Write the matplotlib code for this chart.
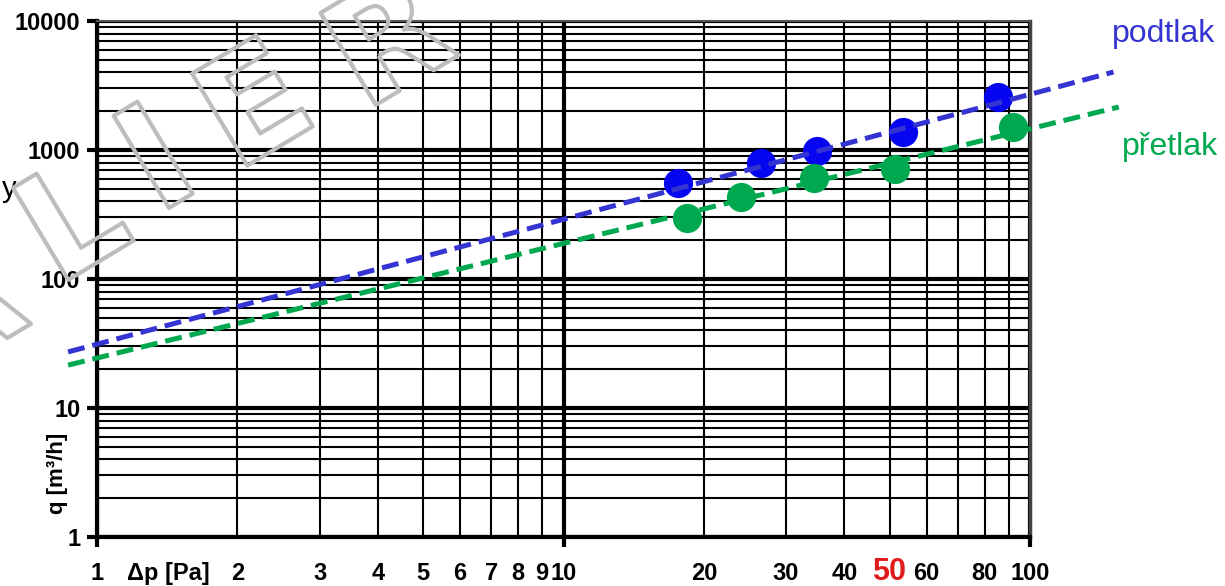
import matplotlib.pyplot as plt
import matplotlib.patheffects as pe

# measured points, dp [Pa] vs q [m3/h]
dp_podtlak = [17.6, 26.5, 34.9, 53.4, 85.4]
q_podtlak = [555, 792, 982, 1380, 2570]
dp_pretlak = [18.4, 24.0, 34.4, 51.3, 91.9]
q_pretlak = [297, 433, 607, 713, 1507]

# fitted power-law lines (end points)
fit_dp_podtlak = [0.867, 151]
fit_q_podtlak = [27.2, 4024]
fit_dp_pretlak = [0.867, 155]
fit_q_pretlak = [21.5, 2154]

x_major = [1, 10, 100]
x_minor = [2, 3, 4, 5, 6, 7, 8, 9, 20, 30, 40, 50, 60, 70, 80, 90]
x_minor_labels = ['2', '3', '4', '5', '6', '7', '8', '9',
                  '20', '30', '40', '50', '60', '', '80', '']
y_major = [1, 10, 100, 1000, 10000]
y_minor = [m * d for d in [1, 10, 100, 1000] for m in range(2, 10)]

BLUE_PT = '#0505f0'
BLUE_LN = '#3434d2'
GREEN = '#00a84f'
W = 1225
H = 586

fig = plt.figure(figsize=(12.25, 5.86), dpi=100)
ax = fig.add_axes([97 / W, 1 - 537 / H, (1030 - 97) / W, (537 - 21) / H])
ax.set_xscale('log')
ax.set_yscale('log')
ax.set_xlim(1, 100)
ax.set_ylim(1, 10000)

lab_font = dict(family='Liberation Sans', weight='bold', size=17)
ax.set_xticks(x_major, labels=['1', '10', '100'], **lab_font)
ax.set_xticks(x_minor, labels=x_minor_labels, minor=True, **lab_font)
ax.set_yticks(y_major, labels=[str(v) for v in y_major], **lab_font)
ax.set_yticks(y_minor, labels=[], minor=True)
for t in ax.get_xticklabels(minor=True) + ax.get_xticklabels():
    t.set_verticalalignment('baseline')
    if t.get_text() == '50':
        t.set_color('#e01b1b')
        t.set_fontsize(22)

ax.tick_params(which='major', length=7, width=3, color='black')
ax.tick_params(which='minor', length=0)
ax.tick_params(axis='x', which='major', pad=24)
ax.tick_params(axis='x', which='minor', pad=31)
ax.tick_params(axis='y', which='major', pad=5)

ax.grid(which='major', color='black', linewidth=3)
ax.grid(which='minor', color='black', linewidth=1.5)
ax.set_axisbelow(True)

ax.spines['left'].set_linewidth(3)
ax.spines['bottom'].set_linewidth(3)
ax.spines['top'].set_linewidth(1.5)
ax.spines['top'].set_color('#555555')
ax.spines['right'].set_linewidth(2.5)
ax.spines['right'].set_color('#444444')

ax.plot(dp_podtlak, q_podtlak, 'o', color=BLUE_PT, markersize=20, zorder=4)
ax.plot(dp_pretlak, q_pretlak, 'o', color=GREEN, markersize=20, zorder=4)
ax.plot(fit_dp_podtlak, fit_q_podtlak, color=BLUE_LN, lw=3.6,
        dashes=(3.4, 1.6), clip_on=False, zorder=5)
ax.plot(fit_dp_pretlak, fit_q_pretlak, color=GREEN, lw=3.6,
        dashes=(3.4, 1.6), clip_on=False, zorder=5)

fig.text(1112 / W, 1 - 34 / H, 'podtlak', color=BLUE_LN, fontsize=23,
         family='Liberation Sans', va='center', ha='left')
fig.text(1122 / W, 1 - 147 / H, 'přetlak', color=GREEN, fontsize=23,
         family='Liberation Sans', va='center', ha='left')

fig.text(168 / W, 1 - 580 / H, 'Δp [Pa]', ha='center', va='baseline',
         **lab_font)
fig.text(57 / W, 1 - 473 / H, 'q [m³/h]', rotation=90, ha='center',
         va='center', family='Liberation Sans', weight='bold', size=16)

fig.text(16 / W, 1 - 197 / H, 'y', ha='right', va='baseline',
         family='Liberation Sans', size=21)

# watermark
outline = [pe.Stroke(linewidth=3, foreground='#bdbdbd')]
for ch, cx, cy in [('A', -38, 318), ('L', 76, 228), ('I', 160, 166),
                   ('E', 258, 112), ('R', 392, 48)]:
    fig.text(cx / W, 1 - cy / H, ch, rotation=31, ha='center', va='center',
             family='DejaVu Sans', weight='bold', size=106,
             color='none', path_effects=outline, zorder=6)

fig.savefig('out.png', dpi=100)
